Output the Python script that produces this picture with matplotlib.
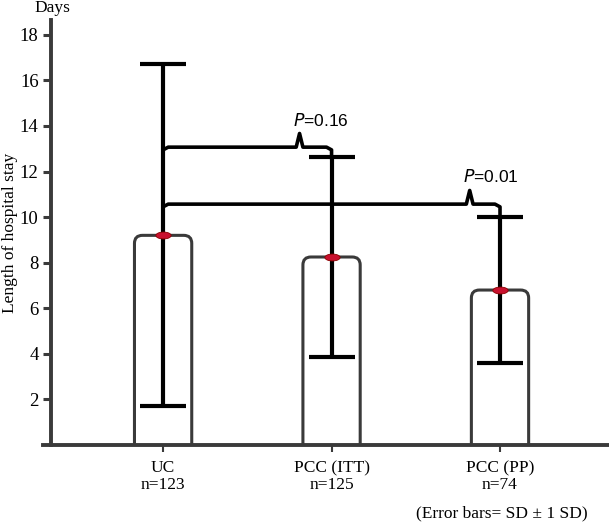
import matplotlib.pyplot as plt
from matplotlib.patches import FancyBboxPatch
from matplotlib.path import Path
from matplotlib.transforms import Affine2D

# groups and values
groups = ["UC\nn=123", "PCC (ITT)\nn=125", "PCC (PP)\nn=74"]
means = [9.2, 8.25, 6.8]
sds = [7.5, 4.4, 3.2]

# comparisons against UC: (group index, bracket height, p value, notch position 0..1)
cmp_idx = [1, 2]
cmp_y = [13.07, 10.57]
cmp_p = ["0.16", "0.01"]
cmp_notch = [0.81, 0.91]

serif = "Liberation Serif"
sans = "Liberation Sans"

fig = plt.figure(figsize=(6.09, 5.23), dpi=100)
ax = fig.add_axes([43 / 609, 78 / 523, (609 - 43) / 609, (445 - 20) / 523])
ax.set_xlim(-0.713, 2.647)
ax.set_ylim(0, 18.65)

x = list(range(len(groups)))
bar_w = 0.34
spine_c = "#3a3a3a"

# bars with rounded top corners (bottom part hidden below the axis)
px_x = 1 / 168.5
px_y = 1 / 22.8
for xi, m in zip(x, means):
    box = FancyBboxPatch((xi - bar_w / 2, -2), bar_w, m + 2,
                         boxstyle="round,pad=0,rounding_size=%f" % (8 * px_x),
                         mutation_aspect=px_y / px_x,
                         facecolor="white", edgecolor=spine_c, linewidth=2.2,
                         zorder=2)
    ax.add_patch(box)

# error bars
ax.errorbar(x, means, yerr=sds, fmt="none", ecolor="black", elinewidth=3,
            capsize=16.5, capthick=3, zorder=3)

# red mean markers (flat ellipses)
ell = Path.unit_circle().transformed(Affine2D().scale(1, 0.45))
ax.plot(x, means, linestyle="none", marker=ell, markersize=11,
        color="#c8102e", markeredgecolor="#8b0000", markeredgewidth=0.6, zorder=4)

# comparison brackets
drop = 0.45
rad = 0.03
for gi, by, p, nt in zip(cmp_idx, cmp_y, cmp_p, cmp_notch):
    x0, x1 = x[0], x[gi]
    xn = x0 + nt * (x1 - x0)
    bx = [x0, x0, x0 + rad, xn - 0.02, xn, xn + 0.02, x1 - rad, x1, x1]
    byy = [by - drop, by - 0.12, by, by, by + 0.6, by, by, by - 0.12, by - drop]
    ax.plot(bx, byy, color="black", linewidth=2.6, solid_joinstyle="round",
            zorder=5)
    ax.text(xn - 0.04, by + 0.95, "$\\it{P}$=" + p, fontsize=12.5,
            family=sans, ha="left", va="baseline")

# axes styling
for s in ["top", "right"]:
    ax.spines[s].set_visible(False)
ax.spines["left"].set_position(("data", -0.665))
for s in ["left", "bottom"]:
    ax.spines[s].set_linewidth(2.8)
    ax.spines[s].set_color(spine_c)
    ax.spines[s].set_zorder(6)

ax.set_yticks(range(2, 19, 2))
ax.set_yticklabels([str(v) for v in range(2, 19, 2)], family=serif, fontsize=13.5)
ax.set_xticks(x)
ax.set_xticklabels(groups, family=serif, fontsize=12.5, linespacing=1.05)
ax.tick_params(axis="y", direction="out", length=6, width=2.2, color=spine_c, pad=3)
ax.tick_params(axis="x", direction="out", length=5, width=1.5, color=spine_c, pad=6)

ax.set_ylabel("Length of hospital stay", family=serif, fontsize=12.5)
ax.yaxis.set_label_coords((18 - 43) / 566, 0.5)
fig.text(52 / 609, 1 - 8 / 523, "Days", family=serif, fontsize=12.5,
         ha="center", va="center")
fig.text(502 / 609, 1 - 513 / 523, "(Error bars= SD \u00b1 1 SD)", family=serif,
         fontsize=12.5, ha="center", va="center")

fig.savefig("out.png", dpi=100)
